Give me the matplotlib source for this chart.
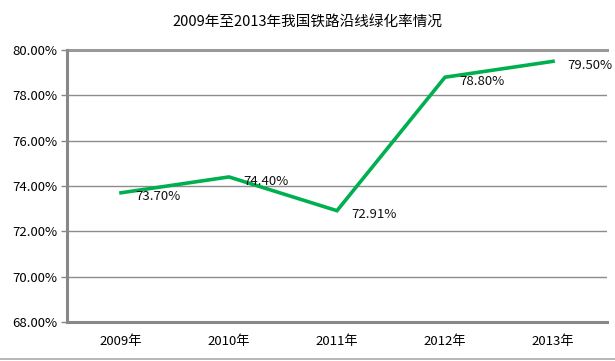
import matplotlib.pyplot as plt
from matplotlib.lines import Line2D

plt.rcParams['font.family'] = ['Noto Sans CJK SC', 'DejaVu Sans']

years = ['2009年', '2010年', '2011年', '2012年', '2013年']
rates = [73.70, 74.40, 72.91, 78.80, 79.50]
yticks = [68, 70, 72, 74, 76, 78, 80]

fig = plt.figure(figsize=(6.15, 3.61), dpi=100)
ax = fig.add_axes([67 / 615, 1 - 322 / 361, 540 / 615, 272 / 361])

x = list(range(len(years)))
ax.plot(x, rates, color='#00B050', lw=2.6, solid_joinstyle='miter', zorder=3)

# data labels to the right of each point
for xi, v in zip(x, rates):
    ax.annotate(f'{v:.2f}%', (xi, v), xytext=(10, -3), textcoords='offset points',
                ha='left', va='center', fontsize=9.5, color='#111111')

ax.set_xlim(-0.5, len(years) - 0.5)
ax.set_ylim(68, 80)
ax.set_yticks(yticks)
ax.set_yticklabels([f'{t:.2f}%' for t in yticks], fontsize=9.5)
ax.set_xticks(x)
ax.set_xticklabels(years, fontsize=9.5)
ax.tick_params(axis='x', length=0, pad=9)
ax.tick_params(axis='y', length=4, color='#888888', width=1, pad=3)

ax.grid(axis='y', color='#8c8c8c', lw=1)
ax.set_axisbelow(True)
for s in ['top', 'right']:
    ax.spines[s].set_visible(False)
for s in ['left', 'bottom']:
    ax.spines[s].set_color('#888888')
    ax.spines[s].set_linewidth(2.2)
ax.axhline(80, color='#999999', lw=2.2, clip_on=False)

fig.text(0.5, 1 - 22 / 361, '2009年至2013年我国铁路沿线绿化率情况', ha='center', va='center',
         fontsize=10.5)

# outer border line along the bottom
fig.add_artist(Line2D([0, 1], [1 - 359 / 361] * 2, color='#aaaaaa', lw=1.2,
                      transform=fig.transFigure))

fig.savefig('out.png', dpi=100)
